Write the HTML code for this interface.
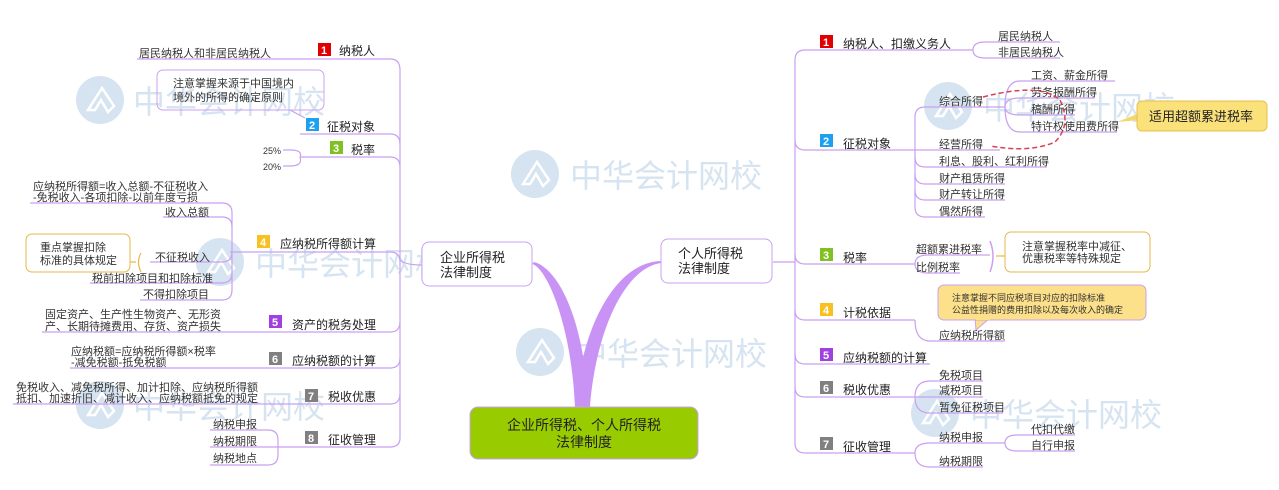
<!DOCTYPE html>
<html><head><meta charset="utf-8">
<style>
html,body{margin:0;padding:0;background:#fff;}
svg{display:block;font-family:"Liberation Sans","Noto Sans CJK SC",sans-serif;}
.t{font-size:11px;fill:#333;}
.h{font-size:12px;fill:#222;}
.s{font-size:9px;fill:#333;}
.wm{font-size:32px;fill:#c4d8eb;}
.b{font-size:11px;font-weight:bold;fill:#fff;}
</style></head><body>
<svg width="1279" height="490" viewBox="0 0 1279 490">
<defs>
<g id="logo"><circle r="24" fill="#c4d8eb"/><path d="M-12 10 L2 -12 L14 6 L8 12 L1 0 L-5 10 Z" fill="none" stroke="#fff" stroke-width="2.5"/></g>
</defs>
<!-- watermarks -->
<g opacity="0.7">
<use href="#logo" x="100" y="100"/><text class="wm" x="133" y="113">中华会计网校</text>
<use href="#logo" x="220" y="262"/><text class="wm" x="255" y="275">中华会计网校</text>
<use href="#logo" x="535" y="174"/><text class="wm" x="570" y="187">中华会计网校</text>
<use href="#logo" x="540" y="352"/><text class="wm" x="575" y="365">中华会计网校</text>
<use href="#logo" x="100" y="405"/><text class="wm" x="133" y="418">中华会计网校</text>
<use href="#logo" x="948" y="106"/><text class="wm" x="983" y="119">中华会计网校</text>
<use href="#logo" x="935" y="413"/><text class="wm" x="970" y="426">中华会计网校</text>
</g>
<g fill="none" stroke="#c9a0f0" stroke-width="1.2">
<path d="M137 59 H390 Q400 59 400 70 V438 Q400 447 390 447 H300"/>
<path d="M300 134 H390 Q400 134 400 144"/>
<path d="M300 157 H390 Q400 157 400 167"/>
<path d="M230 252 H390 Q400 252 400 262"/>
<path d="M42 332 H390 Q400 332 400 322"/>
<path d="M70 368 H390 Q400 368 400 358"/>
<path d="M13 404 H390 Q400 404 400 394"/>
<path d="M400 260 Q405 265 422 265"/>
<path d="M300 157 Q303 150 290 150 H283"/>
<path d="M300 157 Q303 166 290 166 H283"/>
<path d="M30 203 H222 Q232 203 232 213 V290 Q232 300 222 300 H140"/>
<path d="M163 217 H222 Q232 217 232 227"/>
<path d="M150 262 H222 Q232 262 232 252"/>
<path d="M90 283 H222 Q232 283 232 273"/>
<path d="M210 430 H268 Q278 430 278 440 V455 Q278 465 268 465 H210"/>
<path d="M210 447 H300"/>
<path d="M141 253 Q136 262 141 272" stroke="#e6b84a"/>
<path d="M130 262 H136" stroke="#e6b84a"/>
<path d="M290 110 L305 118"/>
<path d="M973 50 H805 Q795 50 795 60 V443 Q795 453 805 453 H915"/>
<path d="M773 262 H795"/>
<path d="M795 140 Q795 150 805 150 H915"/>
<path d="M795 254 Q795 264 805 264 H915"/>
<path d="M795 310 Q795 320 805 320 H915"/>
<path d="M795 354 Q795 364 805 364 H930"/>
<path d="M795 387 Q795 397 805 397 H915"/>
<path d="M973 50 Q973 42 985 42 H1060"/>
<path d="M973 50 Q973 58 985 58 H1060"/>
<path d="M915 150 V117 Q915 107 925 107 H1005"/>
<path d="M915 150 V207 Q915 217 925 217 H985"/>
<path d="M915 150 H1000"/>
<path d="M915 157 Q915 167 925 167 H1047"/>
<path d="M915 174 Q915 184 925 184 H1005"/>
<path d="M915 190 Q915 200 925 200 H1005"/>
<path d="M1005 107 Q1005 81 1020 81 H1115"/>
<path d="M1005 107 Q1005 98 1020 98 H1095"/>
<path d="M1005 107 Q1005 115 1020 115 H1075"/>
<path d="M1005 107 Q1005 132 1020 132 H1117"/>
<path d="M915 264 Q915 255 928 255 H990"/>
<path d="M915 264 Q915 273 928 273 H960"/>
<path d="M990 241 Q996 256 990 272" stroke-width="1.5"/>
<path d="M996 256 H1005" stroke="#e6b84a"/>
<path d="M915 320 Q915 341 930 341 H1005"/>
<path d="M915 397 Q915 381 930 381 H983"/>
<path d="M915 397 H983"/>
<path d="M915 397 Q915 413 930 413 H1003"/>
<path d="M915 453 Q915 443 930 443 H1005"/>
<path d="M915 453 Q915 467 930 467 H983"/>
<path d="M1005 443 Q1005 435 1017 435 H1075"/>
<path d="M1005 443 Q1005 451 1017 451 H1075"/>
</g>
<path d="M575 407 C572 330 548 268 532 264 L534 262 C558 268 585 320 588 407 Z" fill="#c993f5"/>
<path d="M576 407 C580 330 615 262 661 261 L661 263 C625 268 596 330 590 407 Z" fill="#c993f5"/>
<rect x="470" y="407" width="228" height="52" rx="8" fill="#99cc00" stroke="#c9a0f0"/>
<text x="584" y="430" text-anchor="middle" style="font-size:14px;fill:#222">企业所得税、个人所得税</text>
<text x="584" y="447" text-anchor="middle" style="font-size:14px;fill:#222">法律制度</text>
<rect x="422" y="242" width="110" height="44" rx="7" fill="#fff" stroke="#c9a0f0"/>
<text class="h" x="440" y="262" style="font-size:13px">企业所得税</text>
<text class="h" x="440" y="277" style="font-size:13px">法律制度</text>
<rect x="661" y="239" width="111" height="44" rx="7" fill="#fff" stroke="#c9a0f0"/>
<text class="h" x="678" y="258" style="font-size:13px">个人所得税</text>
<text class="h" x="678" y="273" style="font-size:13px">法律制度</text>
<rect x="157" y="70" width="167" height="40" rx="6" fill="none" stroke="#c9a0f0"/>
<text class="t" x="173" y="87" fill="#555">注意掌握来源于中国境内</text>
<text class="t" x="173" y="101">境外的所得的确定原则</text>
<rect x="26" y="234" width="104" height="38" rx="6" fill="#fff" stroke="#e6b84a"/>
<text class="t" x="40" y="251">重点掌握扣除</text>
<text class="t" x="40" y="264">标准的具体规定</text>
<g>
<rect x="318" y="43" width="13" height="13" fill="#e00000"/><text class="b" x="321" y="54">1</text>
<rect x="306" y="118" width="13" height="13" fill="#1ea0f0"/><text class="b" x="309" y="129">2</text>
<rect x="330" y="141" width="13" height="13" fill="#80c020"/><text class="b" x="333" y="152">3</text>
<rect x="257" y="235" width="13" height="13" fill="#f8c020"/><text class="b" x="260" y="246">4</text>
<rect x="269" y="315" width="13" height="13" fill="#a040e0"/><text class="b" x="272" y="326">5</text>
<rect x="269" y="352" width="13" height="13" fill="#808080"/><text class="b" x="272" y="363">6</text>
<rect x="305" y="389" width="13" height="13" fill="#808080"/><text class="b" x="308" y="400">7</text>
<rect x="305" y="431" width="13" height="13" fill="#808080"/><text class="b" x="308" y="442">8</text>
</g>
<text class="h" x="339" y="55">纳税人</text>
<text class="h" x="327" y="131">征税对象</text>
<text class="h" x="351" y="154">税率</text>
<text class="h" x="280" y="248">应纳税所得额计算</text>
<text class="h" x="292" y="329">资产的税务处理</text>
<text class="h" x="292" y="365">应纳税额的计算</text>
<text class="h" x="328" y="401">税收优惠</text>
<text class="h" x="328" y="444">征收管理</text>
<text class="t" x="139" y="57">居民纳税人和非居民纳税人</text>
<text class="s" x="263" y="154">25%</text>
<text class="s" x="263" y="170">20%</text>
<text class="t" x="33" y="190">应纳税所得额=收入总额-不征税收入</text>
<text class="t" x="33" y="201">-免税收入-各项扣除-以前年度亏损</text>
<text class="t" x="165" y="216">收入总额</text>
<text class="t" x="155" y="261">不征税收入</text>
<text class="t" x="92" y="282">税前扣除项目和扣除标准</text>
<text class="t" x="143" y="298">不得扣除项目</text>
<text class="t" x="45" y="318">固定资产、生产性生物资产、无形资</text>
<text class="t" x="45" y="330">产、长期待摊费用、存货、资产损失</text>
<text class="t" x="71" y="355">应纳税额=应纳税所得额×税率</text>
<text class="t" x="71" y="366">-减免税额-抵免税额</text>
<text class="t" x="16" y="391">免税收入、减免税所得、加计扣除、应纳税所得额</text>
<text class="t" x="16" y="402">抵扣、加速折旧、减计收入、应纳税额抵免的规定</text>
<text class="t" x="213" y="428">纳税申报</text>
<text class="t" x="213" y="445">纳税期限</text>
<text class="t" x="213" y="462">纳税地点</text>
<g>
<rect x="820" y="35" width="13" height="13" fill="#e00000"/><text class="b" x="823" y="46">1</text>
<rect x="820" y="134" width="13" height="13" fill="#1ea0f0"/><text class="b" x="823" y="145">2</text>
<rect x="820" y="248" width="13" height="13" fill="#80c020"/><text class="b" x="823" y="259">3</text>
<rect x="820" y="303" width="13" height="13" fill="#f8c020"/><text class="b" x="823" y="314">4</text>
<rect x="820" y="348" width="13" height="13" fill="#a040e0"/><text class="b" x="823" y="359">5</text>
<rect x="820" y="381" width="13" height="13" fill="#808080"/><text class="b" x="823" y="392">6</text>
<rect x="820" y="437" width="13" height="13" fill="#808080"/><text class="b" x="823" y="448">7</text>
</g>
<text class="h" x="843" y="48">纳税人、扣缴义务人</text>
<text class="h" x="843" y="148">征税对象</text>
<text class="h" x="843" y="262">税率</text>
<text class="h" x="843" y="317">计税依据</text>
<text class="h" x="843" y="362">应纳税额的计算</text>
<text class="h" x="843" y="394">税收优惠</text>
<text class="h" x="843" y="451">征收管理</text>
<text class="t" x="998" y="40">居民纳税人</text>
<text class="t" x="998" y="56">非居民纳税人</text>
<text class="t" x="939" y="105">综合所得</text>
<text class="t" x="939" y="148">经营所得</text>
<text class="t" x="939" y="165">利息、股利、红利所得</text>
<text class="t" x="939" y="182">财产租赁所得</text>
<text class="t" x="939" y="198">财产转让所得</text>
<text class="t" x="939" y="215">偶然所得</text>
<text class="t" x="1031" y="79">工资、薪金所得</text>
<text class="t" x="1031" y="96">劳务报酬所得</text>
<text class="t" x="1031" y="113">稿酬所得</text>
<text class="t" x="1031" y="130">特许权使用费所得</text>
<path d="M983 97 Q1040 82 1060 100 Q1072 125 1055 142 Q1030 153 990 146" fill="none" stroke="#d94050" stroke-width="1.5" stroke-dasharray="5,3"/>
<path d="M1117 122 L1140 113 L1140 120 Z" fill="#f5d66a"/>
<rect x="1137" y="101" width="130" height="30" rx="5" fill="#fbe17a" stroke="#e6c050"/>
<text x="1149" y="121" style="font-size:13px;fill:#222">适用超额累进税率</text>
<text class="t" x="916" y="253">超额累进税率</text>
<text class="t" x="916" y="271">比例税率</text>
<rect x="1005" y="232" width="145" height="40" rx="6" fill="#fff" stroke="#e6b84a"/>
<text class="t" x="1022" y="250">注意掌握税率中减征、</text>
<text class="t" x="1022" y="262">优惠税率等特殊规定</text>
<path d="M975 318 L976 330 L990 318 Z" fill="#fde08a" stroke="#c9a0f0"/>
<rect x="938" y="285" width="208" height="35" rx="6" fill="#fde08a" stroke="#c9a0f0"/>
<rect x="976" y="316" width="14" height="4" fill="#fde08a"/>
<text class="s" x="952" y="301">注意掌握不同应税项目对应的扣除标准</text>
<text class="s" x="952" y="313">公益性捐赠的费用扣除以及每次收入的确定</text>
<text class="t" x="939" y="339">应纳税所得额</text>
<text class="t" x="939" y="379">免税项目</text>
<text class="t" x="939" y="394">减税项目</text>
<text class="t" x="939" y="411">暂免征税项目</text>
<text class="t" x="939" y="441">纳税申报</text>
<text class="t" x="939" y="465">纳税期限</text>
<text class="t" x="1031" y="433">代扣代缴</text>
<text class="t" x="1031" y="449">自行申报</text>
</svg>
</body></html>
